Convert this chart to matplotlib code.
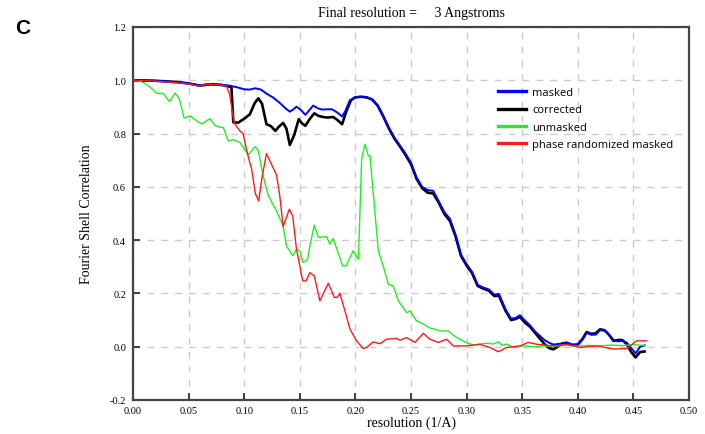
import matplotlib
matplotlib.use("Agg")
import matplotlib.pyplot as plt

# ---------------- data ----------------
masked_x = [0, 0.01, 0.02, 0.03, 0.04, 0.05, 0.055, 0.06, 0.065, 0.07, 0.08, 0.088, 0.095, 0.1, 0.105,
            0.11, 0.115, 0.12, 0.126, 0.132, 0.137, 0.141, 0.144, 0.147, 0.151, 0.155, 0.158, 0.162,
            0.166, 0.17, 0.175, 0.179, 0.184, 0.188, 0.191, 0.195, 0.2, 0.205, 0.21, 0.215, 0.22,
            0.225, 0.23, 0.235, 0.24, 0.245, 0.25, 0.255, 0.26, 0.265, 0.27, 0.275, 0.28, 0.285,
            0.29, 0.295, 0.3, 0.305, 0.31, 0.315, 0.32, 0.325, 0.329, 0.335, 0.34, 0.344, 0.348,
            0.352, 0.357, 0.362, 0.366, 0.37, 0.374, 0.378, 0.382, 0.386, 0.39, 0.395, 0.4, 0.404,
            0.408, 0.412, 0.416, 0.42, 0.424, 0.428, 0.432, 0.436, 0.44, 0.444, 0.448, 0.452, 0.456, 0.46]
masked_y = [1.0, 0.999, 0.998, 0.996, 0.993, 0.988, 0.984, 0.98, 0.984, 0.985, 0.983, 0.979, 0.972, 0.966, 0.965,
            0.970, 0.965, 0.950, 0.935, 0.915, 0.895, 0.882, 0.89, 0.901, 0.888, 0.870, 0.885, 0.905,
            0.895, 0.890, 0.891, 0.891, 0.878, 0.864, 0.885, 0.925, 0.936, 0.938, 0.936, 0.928, 0.905,
            0.865, 0.822, 0.785, 0.755, 0.725, 0.69, 0.635, 0.60, 0.588, 0.585, 0.545, 0.505, 0.48,
            0.42, 0.345, 0.31, 0.28, 0.232, 0.222, 0.215, 0.195, 0.198, 0.14, 0.105, 0.108, 0.118,
            0.100, 0.08, 0.055, 0.040, 0.025, 0.015, 0.008, 0.010, 0.012, 0.016, 0.008, 0.008, 0.025,
            0.052, 0.045, 0.045, 0.062, 0.060, 0.045, 0.025, 0.020, 0.022, 0.015, -0.005, -0.025, 0.0, 0.005]

corrected_x = [0, 0.02, 0.04, 0.05, 0.06, 0.07, 0.08, 0.0885, 0.0902, 0.0947, 0.1007, 0.105, 0.1095,
               0.1127, 0.116, 0.120, 0.124, 0.128, 0.131, 0.135, 0.138, 0.141, 0.145, 0.149, 0.152,
               0.155, 0.159, 0.163, 0.167, 0.171, 0.175, 0.180, 0.184, 0.188, 0.192, 0.196, 0.2, 0.205,
               0.21, 0.215, 0.22, 0.225, 0.23, 0.235, 0.24, 0.245, 0.25, 0.255, 0.26, 0.265, 0.27,
               0.275, 0.28, 0.285, 0.29, 0.295, 0.3, 0.305, 0.31, 0.315, 0.32, 0.325, 0.329, 0.335,
               0.34, 0.344, 0.348, 0.352, 0.357, 0.362, 0.366, 0.37, 0.374, 0.378, 0.382, 0.386, 0.39,
               0.395, 0.4, 0.404, 0.408, 0.412, 0.416, 0.42, 0.424, 0.428, 0.432, 0.436, 0.44, 0.444,
               0.448, 0.452, 0.456, 0.46]
corrected_y = [1.0, 0.998, 0.993, 0.988, 0.98, 0.985, 0.982, 0.975, 0.842, 0.841, 0.858, 0.872, 0.915,
               0.932, 0.912, 0.835, 0.828, 0.810, 0.825, 0.840, 0.818, 0.757, 0.795, 0.854, 0.838,
               0.829, 0.855, 0.876, 0.866, 0.862, 0.860, 0.862, 0.850, 0.835, 0.885, 0.925, 0.936, 0.938,
               0.936, 0.928, 0.905, 0.865, 0.82, 0.782, 0.752, 0.72, 0.685, 0.63, 0.595, 0.578, 0.575,
               0.54, 0.498, 0.472, 0.415, 0.34, 0.305, 0.275, 0.228, 0.218, 0.21, 0.19, 0.192, 0.135,
               0.10, 0.104, 0.112, 0.092, 0.075, 0.05, 0.03, 0.01, -0.005, -0.01, 0.0, 0.012, 0.014,
               0.006, 0.008, 0.028, 0.055, 0.048, 0.05, 0.065, 0.062, 0.045, 0.022, 0.025, 0.025, 0.01,
               -0.02, -0.04, -0.02, -0.018]

unmasked_x = [0, 0.005, 0.01, 0.015, 0.018, 0.021, 0.027, 0.0327, 0.0378, 0.0417, 0.0459, 0.0513, 0.0573,
              0.0617, 0.0692, 0.0737, 0.0782, 0.0812, 0.0857, 0.090, 0.096, 0.1037, 0.1097, 0.1127,
              0.117, 0.1217, 0.129, 0.135, 0.138, 0.1436, 0.147, 0.150, 0.153, 0.157, 0.159, 0.163,
              0.1667, 0.174, 0.177, 0.180, 0.1885, 0.1915, 0.198, 0.2027, 0.2056, 0.2086, 0.2116,
              0.2131, 0.2206, 0.225, 0.2296, 0.234, 0.2386, 0.246, 0.249, 0.255, 0.261, 0.267, 0.272,
              0.276, 0.2836, 0.289, 0.294, 0.300, 0.306, 0.312, 0.318, 0.324, 0.3286, 0.332, 0.336,
              0.342, 0.351, 0.36, 0.37, 0.38, 0.39, 0.40, 0.41, 0.42, 0.43, 0.44, 0.45, 0.46]
unmasked_y = [1.0, 0.998, 0.99, 0.975, 0.965, 0.951, 0.951, 0.920, 0.952, 0.929, 0.858, 0.866, 0.847,
              0.836, 0.856, 0.830, 0.824, 0.822, 0.772, 0.777, 0.767, 0.720, 0.751, 0.735,
              0.641, 0.566, 0.510, 0.453, 0.378, 0.341, 0.366, 0.360, 0.316, 0.328, 0.378, 0.456,
              0.410, 0.413, 0.385, 0.406, 0.303, 0.303, 0.360, 0.328, 0.704, 0.760, 0.716,
              0.716, 0.360, 0.303, 0.234, 0.228, 0.172, 0.128, 0.134, 0.097, 0.085, 0.070, 0.065,
              0.059, 0.059, 0.040, 0.028, 0.015, 0.006, 0.010, 0.013, 0.010, 0.018, 0.005, 0.010,
              -0.003, 0.003, 0.0, 0.003, 0.002, 0.005, 0.002, 0.005, 0.003, 0.006, 0.004, 0.008, 0.004]

phase_x = [0, 0.02, 0.04, 0.05, 0.055, 0.0587, 0.063, 0.07, 0.078, 0.084, 0.087, 0.0905, 0.0917, 0.096,
           0.099, 0.102, 0.105, 0.1067, 0.110, 0.113, 0.116, 0.120, 0.125, 0.129, 0.132, 0.135, 0.1406,
           0.1436, 0.147, 0.150, 0.1526, 0.1556, 0.159, 0.163, 0.168, 0.1756, 0.181, 0.1837, 0.186,
           0.191, 0.1951, 0.201, 0.207, 0.210, 0.216, 0.222, 0.228, 0.237, 0.240, 0.246, 0.2536,
           0.261, 0.267, 0.2746, 0.282, 0.288, 0.300, 0.312, 0.321, 0.3286, 0.336, 0.348, 0.3555,
           0.363, 0.378, 0.39, 0.402, 0.417, 0.432, 0.444, 0.453, 0.462]
phase_y = [1.0, 0.997, 0.99, 0.986, 0.982, 0.978, 0.983, 0.985, 0.982, 0.979, 0.945, 0.85, 0.835, 0.810,
           0.80, 0.741, 0.691, 0.666, 0.575, 0.547, 0.635, 0.725, 0.680, 0.645, 0.566, 0.450, 0.516,
           0.491, 0.366, 0.303, 0.247, 0.247, 0.278, 0.266, 0.172, 0.238, 0.185, 0.185, 0.201,
           0.128, 0.066, 0.022, -0.007, -0.003, 0.018, 0.011, 0.028, 0.031, 0.024, 0.034, 0.016,
           0.050, 0.028, 0.016, 0.028, 0.003, 0.003, 0.009, -0.003, -0.019, -0.003, 0.003, 0.016,
           0.009, 0.003, 0.009, -0.003, 0.003, -0.009, -0.007, 0.022, 0.022]

series_labels = ["masked", "corrected", "unmasked", "phase randomized masked"]
x_ticks = [0.00, 0.05, 0.10, 0.15, 0.20, 0.25, 0.30, 0.35, 0.40, 0.45, 0.50]
y_ticks = [-0.2, 0.0, 0.2, 0.4, 0.6, 0.8, 1.0, 1.2]

# ---------------- figure ----------------
serif = "Liberation Serif"
fig = plt.figure(figsize=(7.05, 4.35), dpi=100)
ax = fig.add_axes([0.1887, 0.0782, 0.7886, 0.8575])

l_c, = ax.plot(corrected_x, corrected_y, color="#000000", lw=1.9, label=series_labels[1], zorder=2)
l_m, = ax.plot(masked_x, masked_y, color="#0000ff", lw=1.4, label=series_labels[0], zorder=3)
l_u, = ax.plot(unmasked_x, unmasked_y, color="#22ee22", lw=1.0, label=series_labels[2], zorder=4)
l_p, = ax.plot(phase_x, phase_y, color="#ff1a1a", lw=1.0, label=series_labels[3], zorder=5)

ax.set_xlim(0, 0.5)
ax.set_ylim(-0.2, 1.2)
ax.set_xticks(x_ticks)
ax.set_yticks(y_ticks)
ax.set_xticklabels([f"{v:.2f}" for v in x_ticks], fontfamily=serif, fontsize=7.5)
ax.set_yticklabels([f"{v:.1f}" for v in y_ticks], fontfamily=serif, fontsize=7.5)
ax.tick_params(direction="in", length=5, width=1.2, color="#222222")
ax.tick_params(axis="x", pad=4)
ax.tick_params(axis="y", pad=5)

ax.grid(True, color="#cccccc", linestyle=(0, (5, 5)), linewidth=1.0, zorder=0)
ax.set_axisbelow(True)
for s in ax.spines.values():
    s.set_color("#444444")
    s.set_linewidth(1.6)

ax.set_title("Final resolution =     3 Angstroms", fontfamily=serif, fontsize=10, pad=8)
ax.set_xlabel("resolution (1/A)", fontfamily=serif, fontsize=10, labelpad=1)
ax.set_ylabel("Fourier Shell Correlation", fontfamily=serif, fontsize=10, labelpad=12)

leg = ax.legend(handles=[l_m, l_c, l_u, l_p], loc="upper left", bbox_to_anchor=(0.648, 0.85),
                frameon=False, prop={"family": "Open Sans", "size": 8}, handlelength=2.5,
                labelspacing=0.55, handletextpad=0.6, borderaxespad=0)
for h in leg.get_lines():
    h.set_linewidth(2.4)

fig.text(0.022, 0.935, "C", fontfamily="Liberation Sans", fontsize=15, fontweight="bold", va="center")

fig.savefig("out.png", dpi=100)
